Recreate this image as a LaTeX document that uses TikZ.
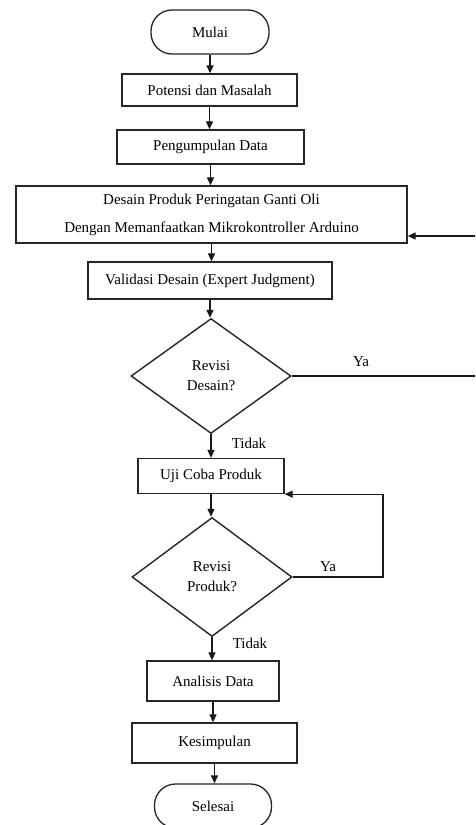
\documentclass[tikz,border=0pt]{standalone}
\usepackage{fontspec}
\setmainfont{Liberation Serif}
\usetikzlibrary{shapes.geometric,arrows.meta}
\begin{document}
\begin{tikzpicture}[x=1pt,y=-1pt,
  every node/.style={font=\fontsize{15}{18}\selectfont, inner sep=0pt},
  box/.style={draw=black!85, line width=1.3pt, rectangle},
  term/.style={draw=black!85, line width=1.3pt, rectangle, rounded corners=21pt},
  dec/.style={draw=black!85, line width=1.4pt, diamond, align=center, font=\fontsize{15}{20}\selectfont},
  lbl/.style={font=\fontsize{15}{18}\selectfont},
  arr/.style={draw=black!90, line width=1.2pt, -{Triangle[length=8pt,width=7pt]}},
  ln/.style={draw=black!90, line width=1.2pt}]
\clip (0,0) rectangle (475,825);
\fill[white] (0,0) rectangle (475,825);

\node[term, minimum width=118pt, minimum height=44pt] (mulai) at (210,32) {Mulai};
\node[box, minimum width=175pt, minimum height=32pt] (potensi) at (209.5,90) {Potensi dan Masalah};
\node[box, minimum width=187pt, minimum height=34pt] (peng) at (210.5,147) {Pengumpulan Data};
\node[box, minimum width=391pt, minimum height=57pt, align=center, font=\fontsize{15}{28}\selectfont] (desain) at (211.5,214.5) {Desain Produk Peringatan Ganti Oli\\Dengan Memanfaatkan Mikrokontroller Arduino};
\node[box, minimum width=244pt, minimum height=37pt] (valid) at (210,280.5) {Validasi Desain (Expert Judgment)};
\node[dec, minimum width=160pt, minimum height=115pt] (d1) at (211,376) {Revisi\\Desain?};
\node[box, minimum width=146pt, minimum height=35pt] (uji) at (211,476) {Uji Coba Produk};
\node[dec, minimum width=160pt, minimum height=119pt] (d2) at (212,577) {Revisi\\Produk?};
\node[box, minimum width=132pt, minimum height=40pt] (anal) at (213,681) {Analisis Data};
\node[box, minimum width=165pt, minimum height=40pt] (kes) at (214.5,743) {Kesimpulan};
\node[term, minimum width=117pt, minimum height=44pt] (sel) at (213,806) {Selesai};

\draw[arr] (mulai.south) -- (mulai.south |- potensi.north);
\draw[arr] (potensi.south) -- (potensi.south |- peng.north);
\draw[arr] (peng.south) -- (peng.south |- desain.north);
\draw[arr] (desain.south) -- (desain.south |- valid.north);
\draw[arr] (valid.south) -- (valid.south |- d1.north);
\draw[arr] (d1.south) -- (d1.south |- uji.north);
\draw[arr] (uji.south) -- (uji.south |- d2.north);
\draw[arr] (d2.south) -- (d2.south |- anal.north);
\draw[arr] (anal.south) -- (anal.south |- kes.north);
\draw[arr] (kes.south) -- (kes.south |- sel.north);

\coordinate (turn1) at (480,376);
\draw[arr] (d1.east) -- (turn1) |- ([yshift=-21.5pt]desain.east);
\coordinate (turn2) at (383,577);
\draw[arr] (d2.east) -- (turn2) |- (uji.south east);

\node[lbl] (ya1) at (361,362) {Ya};
\node[lbl] (ya2) at (328,567) {Ya};
\node[lbl] (tidak1) at (249,443) {Tidak};
\node[lbl] (tidak2) at (250,643) {Tidak};
\end{tikzpicture}
\end{document}
